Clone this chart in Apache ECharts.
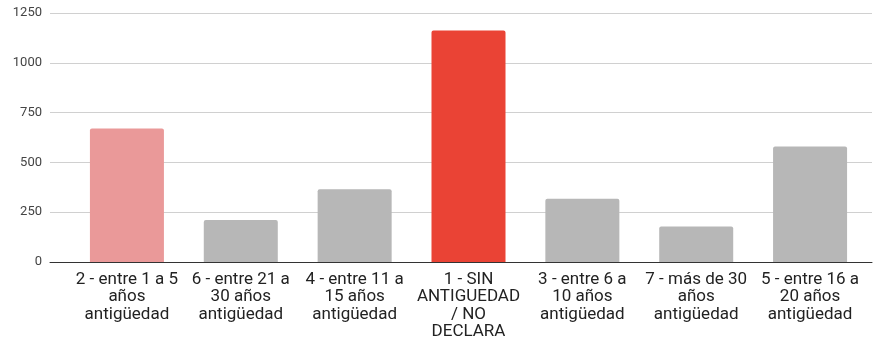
<!DOCTYPE html>
<html><head><meta charset="utf-8">
<script src="https://cdn.jsdelivr.net/npm/echarts@6/dist/echarts.min.js"></script>
<style>html,body{margin:0;padding:0;background:#fff}#c{width:873px;height:339px}</style>
</head><body><div id="c"></div>
<script>
const categories = [
  "2 - entre 1 a 5\naños\nantigüedad",
  "6 - entre 21 a\n30 años\nantigüedad",
  "4 - entre 11 a\n15 años\nantigüedad",
  "1 - SIN\nANTIGUEDAD\n/ NO\nDECLARA",
  "3 - entre 6 a\n10 años\nantigüedad",
  "7 - más de 30\naños\nantigüedad",
  "5 - entre 16 a\n20 años\nantigüedad"
];
const values = [670, 211, 365, 1162, 318, 178, 580];
const barColors = ["#ea9999", "#b7b7b7", "#b7b7b7", "#ea4335", "#b7b7b7", "#b7b7b7", "#b7b7b7"];
const yTicks = [0, 250, 500, 750, 1000, 1250];

const chart = echarts.init(document.getElementById('c'), null, {renderer: 'canvas'});
const yMax = yTicks[yTicks.length - 1];
chart.setOption({
  animation: false,
  grid: [
    {left: 50, right: 1, top: 13, bottom: 77, containLabel: false, outerBoundsMode: 'none'},
    {left: 70, right: 6, top: 13, bottom: 77, containLabel: false, outerBoundsMode: 'none'}
  ],
  xAxis: [
    {gridIndex: 0, type: 'category', data: categories, axisLabel: {show: false}, axisTick: {show: false},
     axisLine: {show: true, lineStyle: {color: '#333', width: 1}}, splitLine: {show: false}, z: 5},
    {gridIndex: 1, type: 'category', data: categories, axisTick: {show: false}, axisLine: {show: false},
     axisLabel: {interval: 0, color: '#222', fontSize: 17, fontFamily: 'Roboto', lineHeight: 17.3, margin: 9}}
  ],
  yAxis: [
    {gridIndex: 0, type: 'value', min: 0, max: yMax, interval: 250,
     axisLabel: {color: '#444', fontSize: 13, fontFamily: 'Roboto', margin: 8, formatter: v => String(v)},
     axisLine: {show: false}, axisTick: {show: false},
     splitLine: {lineStyle: {color: '#d0d0d0', width: 1}}},
    {gridIndex: 1, type: 'value', min: 0, max: yMax, interval: 250,
     axisLabel: {show: false}, axisLine: {show: false}, axisTick: {show: false}, splitLine: {show: false}}
  ],
  series: [{
    type: 'bar', xAxisIndex: 1, yAxisIndex: 1, barWidth: '65%',
    data: values.map((v, i) => ({value: v, itemStyle: {color: barColors[i], borderRadius: [2, 2, 0, 0]}}))
  }]
});
</script></body></html>
